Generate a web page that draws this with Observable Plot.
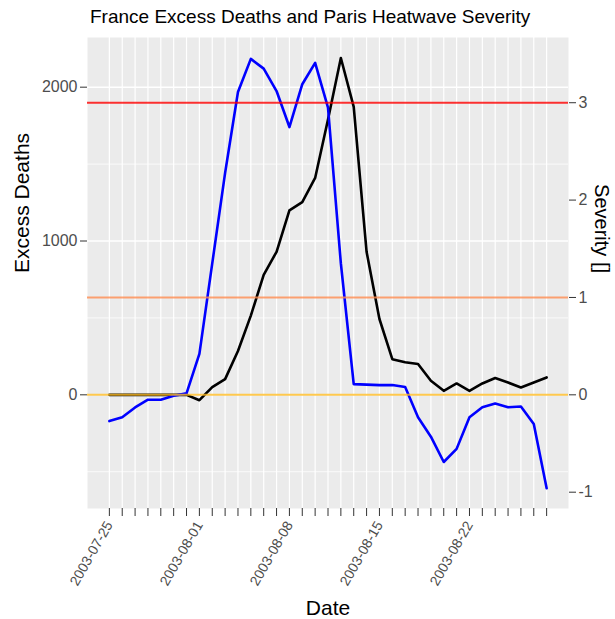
<!DOCTYPE html>
<html>
<head>
<meta charset="utf-8">
<script src="https://cdn.jsdelivr.net/npm/d3@7"></script>
<script src="https://cdn.jsdelivr.net/npm/@observablehq/plot@0.6"></script>
<style>
  html, body { margin: 0; padding: 0; background: #fff; }
  #title { height: 30px; box-sizing: border-box; padding-top: 8px; padding-left: 90px;
           font: 19px "Liberation Sans", Arial, sans-serif; line-height: 18px; color: #000; white-space: nowrap; }
  #chart svg { display: block; }
</style>
</head>
<body>
<div id="title">France Excess Deaths and Paris Heatwave Severity</div>
<div id="chart"></div>
<script>
const dates = [
  "2003-07-25","2003-07-26","2003-07-27","2003-07-28","2003-07-29","2003-07-30","2003-07-31",
  "2003-08-01","2003-08-02","2003-08-03","2003-08-04","2003-08-05","2003-08-06","2003-08-07",
  "2003-08-08","2003-08-09","2003-08-10","2003-08-11","2003-08-12","2003-08-13","2003-08-14",
  "2003-08-15","2003-08-16","2003-08-17","2003-08-18","2003-08-19","2003-08-20","2003-08-21",
  "2003-08-22","2003-08-23","2003-08-24","2003-08-25","2003-08-26","2003-08-27","2003-08-28"
];
const excessDeaths = [
  0, 0, 0, 0, 0, 0, 0,
  -35, 50, 102, 285, 515, 780, 930,
  1199, 1253, 1410, 1790, 2190, 1872, 930,
  493, 232, 212, 200, 91, 26, 74,
  26, 74, 109, 80, 48, 80, 113
];
const severity = [
  -0.27, -0.23, -0.13, -0.05, -0.05, -0.01, 0.015,
  0.42, 1.35, 2.28, 3.11, 3.45, 3.35, 3.12,
  2.75, 3.19, 3.41, 2.95, 1.35, 0.11, 0.105,
  0.10, 0.10, 0.08, -0.23, -0.43, -0.69, -0.555,
  -0.23, -0.127, -0.09, -0.127, -0.12, -0.30, -0.96
];
const deathTicks = [0, 1000, 2000];
const deathMinor = [-500, 500, 1500];
const severityTicks = [-1, 0, 1, 2, 3];
const labelDates = ["2003-07-25","2003-08-01","2003-08-08","2003-08-15","2003-08-22"];
const thresholds = [
  {sev: 3, color: "#FF0000"},
  {sev: 1, color: "#FF8C50"},
  {sev: 0, color: "#FFBB22"}
];

const K = 633; // deaths per severity unit (secondary axis scaling)
const parse = d3.utcParse("%Y-%m-%d");
const fmt = d3.utcFormat("%Y-%m-%d");
const data = dates.map((d, i) => ({date: parse(d), deaths: excessDeaths[i], sev: severity[i]}));
const tickDates = dates.map(parse);
const labelSet = new Set(labelDates);
const DAY = 864e5;
const x0 = new Date(+tickDates[0] - 1.7 * DAY);
const x1 = new Date(+tickDates[tickDates.length - 1] + 1.7 * DAY);

const font = '"Liberation Sans", Arial, sans-serif';

const plot = Plot.plot({
  width: 615,
  height: 589,
  marginTop: 7,
  marginBottom: 111,
  marginLeft: 87,
  marginRight: 47,
  style: {fontFamily: font, background: "white"},
  x: {type: "utc", domain: [x0, x1]},
  y: {domain: [-739, 2323]},
  marks: [
    Plot.frame({fill: "#EBEBEB", stroke: "none"}),
    Plot.gridY(deathMinor, {stroke: "white", strokeOpacity: 1, strokeWidth: 0.8}),
    Plot.gridY(deathTicks, {stroke: "white", strokeOpacity: 1, strokeWidth: 1.5}),
    Plot.gridX(tickDates, {stroke: "white", strokeOpacity: 1, strokeWidth: 1.2}),
    Plot.lineY(data, {x: "date", y: "deaths", stroke: "black", strokeWidth: 2.6}),
    Plot.lineY(data, {x: "date", y: d => d.sev * K, stroke: "#0000FF", strokeWidth: 2.6}),
    Plot.ruleY(thresholds, {y: d => d.sev * K, stroke: d => d.color, strokeWidth: 2, strokeOpacity: 0.8}),
    Plot.axisY(deathTicks, {anchor: "left", tickSize: 7, tickPadding: 3, fontSize: 16,
      stroke: "#333333", fill: "#4D4D4D", label: null, tickFormat: d => String(d)}),
    Plot.axisY(severityTicks.map(v => v * K), {anchor: "right", tickSize: 7, tickPadding: 3, fontSize: 16,
      stroke: "#333333", fill: "#4D4D4D", label: null, tickFormat: d => String(Math.round(d / K))}),
    Plot.axisX(tickDates, {anchor: "bottom", tickSize: 8, tickPadding: 6, tickRotate: -60, fontSize: 14,
      stroke: "#333333", fill: "#4D4D4D", label: null,
      tickFormat: d => labelSet.has(fmt(d)) ? fmt(d) : ""}),
    Plot.text(["Excess Deaths"], {frameAnchor: "left", dx: -65, rotate: -90, fontSize: 21, fill: "black"}),
    Plot.text(["Severity []"], {frameAnchor: "right", dx: 33, rotate: 90, fontSize: 20, fill: "black"}),
    Plot.text(["Date"], {frameAnchor: "bottom", dy: 106, lineAnchor: "bottom", fontSize: 21, fill: "black"})
  ]
});
document.getElementById("chart").appendChild(plot);
</script>
</body>
</html>
